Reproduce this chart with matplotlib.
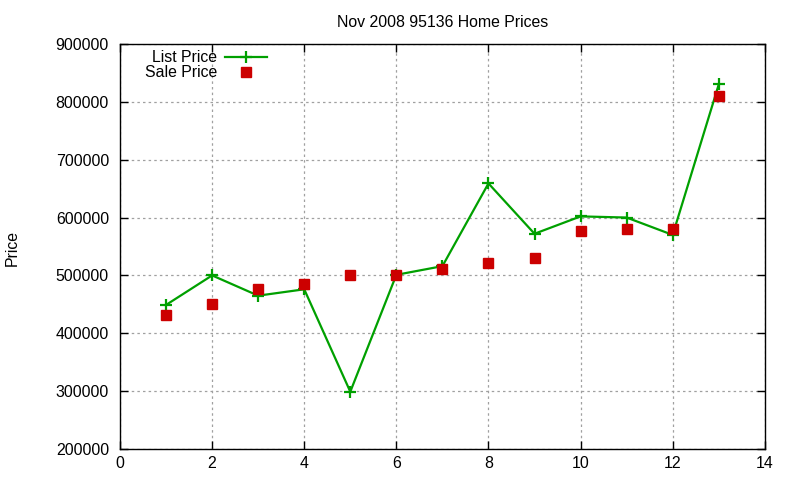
import matplotlib
matplotlib.use("Agg")
import matplotlib.pyplot as plt

# month index within Nov 2008 listing
months = [1, 2, 3, 4, 5, 6, 7, 8, 9, 10, 11, 12, 13]
list_price = [449000, 500000, 465000, 476000, 299000, 501000, 516000,
              659000, 572000, 602000, 600000, 570000, 830000]
sale_price = [432000, 451000, 477000, 485000, 500000, 501000, 511000,
              521000, 530000, 576000, 581000, 581000, 810000]

plt.rcParams['font.family'] = ['Liberation Sans', 'DejaVu Sans']
fs = 11.4

fig = plt.figure(figsize=(8, 4.8), dpi=100)
ax = fig.add_axes([0.15, 0.0646, 0.806, 0.8438])

ax.plot(months, list_price, color='#00a000', linewidth=1.6, marker='+',
        markersize=9, markeredgewidth=1.6, label='List Price')
ax.plot(months, sale_price, linestyle='none', color='#cc0000', marker='s',
        markersize=6.5, label='Sale Price')

ax.set_xlim(0, 14)
ax.set_ylim(200000, 900000)
ax.set_xticks(range(0, 15, 2))
ax.set_yticks(range(200000, 900001, 100000))
ax.tick_params(direction='in', length=6, top=True, right=True, labelsize=fs,
               width=1)
ax.tick_params(axis='x', pad=5)
ax.tick_params(axis='y', pad=8)
ax.grid(True, color='#a0a0a0', linestyle=(0, (2, 2.5)), linewidth=0.9)
for s in ax.spines.values():
    s.set_linewidth(1.0)

ax.set_title('Nov 2008 95136 Home Prices', fontsize=fs, pad=12)
fig.text(12 / 800, 1 - 248 / 480, 'Price', rotation=90, fontsize=fs,
         ha='center', va='center')

ax.legend(loc='upper left', bbox_to_anchor=(0.017, 1.02), frameon=False,
          markerfirst=False, handlelength=2.6, handletextpad=0.5,
          labelspacing=0.0, fontsize=fs)

fig.savefig('out.png', dpi=100)
